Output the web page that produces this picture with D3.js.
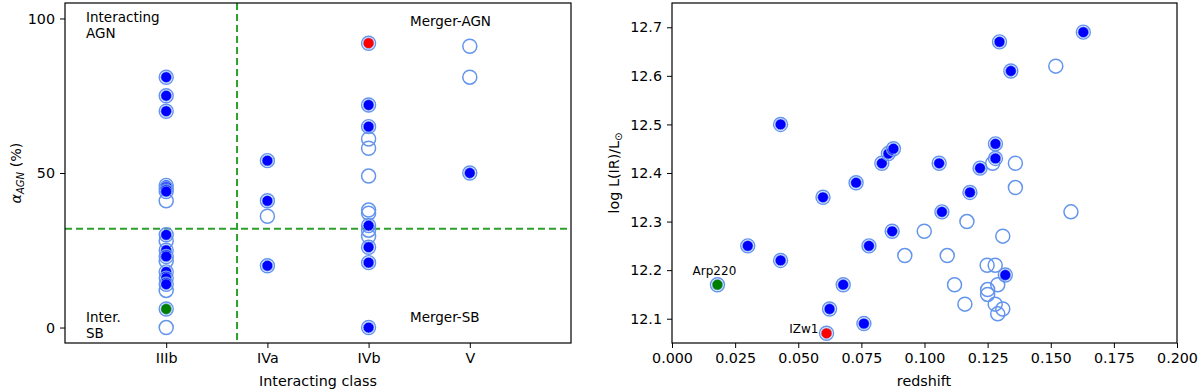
<!DOCTYPE html>
<html><head><meta charset="utf-8">
<script src="https://cdn.jsdelivr.net/npm/d3@7"></script>
<style>body{margin:0;background:#fff;} text{font-family:"DejaVu Sans",sans-serif;}</style>
</head><body>
<svg id="c" width="1200" height="392"></svg>
<script>
// ---- Left panel data ----
const classes = ["IIIb","IVa","IVb","V"];
const leftOpen = [
  {c:"IIIb", a:[41,28,21.5,12,0]},
  {c:"IVa",  a:[36]},
  {c:"IVb",  a:[61,58,49,38,37,31.5,29.5]},
  {c:"V",    a:[91,81]}
];
const leftFilled = [
  {c:"IIIb", a:[81,75,70,46,45,44,30,25,23,18,16,14]},
  {c:"IVa",  a:[54,41,20]},
  {c:"IVb",  a:[72,65,33,26,21,0]},
  {c:"V",    a:[50]}
];
const leftGreen = [{c:"IIIb", a:6}];
const leftRed = [{c:"IVb", a:92}];
const leftYTicks = [0,50,100];
const alphaCut = 32;
const classCut = 0.7;

// ---- Right panel data ----
const rOpenZ = [0.152,0.127,0.136,0.136,0.158,0.1168,0.0999,0.131,0.0922,0.109,0.1248,0.128,0.129,0.1119,0.125,0.125,0.116,0.128,0.131,0.129];
const rOpenL = [12.62,12.42,12.42,12.37,12.32,12.30,12.28,12.27,12.23,12.23,12.21,12.21,12.17,12.17,12.16,12.15,12.13,12.13,12.12,12.11];
const rFillZ = [0.043,0.0598,0.0729,0.0831,0.0857,0.0877,0.0872,0.030,0.078,0.043,0.0678,0.0624,0.076,0.1297,0.1629,0.1342,0.1281,0.1281,0.1058,0.122,0.118,0.1069,0.132];
const rFillL = [12.50,12.35,12.38,12.42,12.44,12.45,12.28,12.25,12.25,12.22,12.17,12.12,12.09,12.67,12.69,12.61,12.46,12.43,12.42,12.41,12.36,12.32,12.19];
const rGreen = {name:"Arp220", z:0.018, l:12.17};
const rRed = {name:"IZw1", z:0.0612, l:12.07};
const rXTicks = [0,0.025,0.05,0.075,0.1,0.125,0.15,0.175,0.2];
const rYTicks = [12.1,12.2,12.3,12.4,12.5,12.6,12.7];

const svg = d3.select("#c");
const EDGE = "#6495ED";

function openMark(g, x, y){
  g.append("circle").attr("cx",x).attr("cy",y).attr("r",7)
   .attr("fill","none").attr("stroke",EDGE).attr("stroke-width",1.5);
}
function fillMark(g, x, y, col){
  g.append("circle").attr("cx",x).attr("cy",y).attr("r",7)
   .attr("fill","none").attr("stroke",EDGE).attr("stroke-width",1.4);
  g.append("circle").attr("cx",x).attr("cy",y).attr("r",5.4)
   .attr("fill",col).attr("stroke","#8fb2f5").attr("stroke-width",0.7);
}
function styleAxis(a){
  a.select(".domain").remove();
  a.selectAll(".tick line").attr("stroke","#000").attr("stroke-width",1);
  a.selectAll(".tick text").attr("fill","#000").style("font-size","14.3px").style("font-family","DejaVu Sans");
}

// ---------- Left panel ----------
const L = {l:65, r:571, t:3, b:343};
const xL = d3.scaleLinear().domain([-1,4]).range([L.l,L.r]);
const yL = d3.scaleLinear().domain([-5,105]).range([L.b,L.t]);
const gL = svg.append("g");

gL.append("line").attr("x1",xL(classCut)).attr("x2",xL(classCut)).attr("y1",L.t).attr("y2",L.b)
  .attr("stroke","#2ca02c").attr("stroke-width",2).attr("stroke-dasharray","7,4");
gL.append("line").attr("x1",L.l).attr("x2",L.r).attr("y1",yL(alphaCut)).attr("y2",yL(alphaCut))
  .attr("stroke","#2ca02c").attr("stroke-width",2).attr("stroke-dasharray","7,4");

leftOpen.forEach(d=>d.a.forEach(v=>openMark(gL, xL(classes.indexOf(d.c)), yL(v))));
leftFilled.forEach(d=>d.a.forEach(v=>fillMark(gL, xL(classes.indexOf(d.c)), yL(v), "#0000ff")));
leftGreen.forEach(d=>fillMark(gL, xL(classes.indexOf(d.c)), yL(d.a), "#008000"));
leftRed.forEach(d=>fillMark(gL, xL(classes.indexOf(d.c)), yL(d.a), "#ff0000"));

gL.append("rect").attr("x",L.l).attr("y",L.t).attr("width",L.r-L.l).attr("height",L.b-L.t)
  .attr("fill","none").attr("stroke","#000").attr("stroke-width",1.2);

const axLx = gL.append("g").attr("transform",`translate(0,${L.b})`)
  .call(d3.axisBottom(xL).tickValues(d3.range(classes.length)).tickFormat(i=>classes[i]).tickSize(5).tickPadding(5));
styleAxis(axLx);
const axLy = gL.append("g").attr("transform",`translate(${L.l},0)`)
  .call(d3.axisLeft(yL).tickValues(leftYTicks).tickSize(5).tickPadding(5));
styleAxis(axLy);

const ann = [
  {t:["Interacting","AGN"], x:86, y:22},
  {t:["Inter.","SB"], x:86, y:322},
  {t:["Merger-AGN"], x:410, y:26},
  {t:["Merger-SB"], x:410, y:322}
];
ann.forEach(a=>{
  const t = gL.append("text").attr("x",a.x).attr("y",a.y).style("font-size","13.5px").attr("fill","#000");
  a.t.forEach((s,i)=>t.append("tspan").attr("x",a.x).attr("dy",i?15.5:0).text(s));
});

gL.append("text").attr("x",318).attr("y",386).attr("text-anchor","middle").style("font-size","14.3px").text("Interacting class");
const yl = gL.append("text").attr("transform","translate(21,173) rotate(-90)").attr("text-anchor","middle").style("font-size","14.3px");
yl.append("tspan").style("font-style","italic").text("α");
yl.append("tspan").attr("dy",3).style("font-size","10px").style("font-style","italic").text("AGN");
yl.append("tspan").attr("dy",-3).text(" (%)");

// ---------- Right panel ----------
const R = {l:672, r:1177, t:3, b:343};
const xR = d3.scaleLinear().domain([0,0.2]).range([R.l,R.r]);
const yR = d3.scaleLinear().domain([12.05,12.75]).range([R.b,R.t]);
const gR = svg.append("g");

rOpenZ.forEach((z,i)=>openMark(gR, xR(z), yR(rOpenL[i])));
rFillZ.forEach((z,i)=>fillMark(gR, xR(z), yR(rFillL[i]), "#0000ff"));
fillMark(gR, xR(rGreen.z), yR(rGreen.l), "#008000");
fillMark(gR, xR(rRed.z), yR(rRed.l), "#ff0000");

gR.append("text").attr("x",xR(rGreen.z)-3).attr("y",yR(rGreen.l)-10).attr("text-anchor","middle")
  .style("font-size","12px").text(rGreen.name);
gR.append("text").attr("x",xR(rRed.z)-8).attr("y",yR(rRed.l)+0).attr("text-anchor","end")
  .style("font-size","12px").text(rRed.name);

gR.append("rect").attr("x",R.l).attr("y",R.t).attr("width",R.r-R.l).attr("height",R.b-R.t)
  .attr("fill","none").attr("stroke","#000").attr("stroke-width",1.2);

const axRx = gR.append("g").attr("transform",`translate(0,${R.b})`)
  .call(d3.axisBottom(xR).tickValues(rXTicks).tickFormat(d3.format(".3f")).tickSize(5).tickPadding(5));
styleAxis(axRx);
const axRy = gR.append("g").attr("transform",`translate(${R.l},0)`)
  .call(d3.axisLeft(yR).tickValues(rYTicks).tickFormat(d3.format(".1f")).tickSize(5).tickPadding(5));
styleAxis(axRy);

gR.append("text").attr("x",924).attr("y",386).attr("text-anchor","middle").style("font-size","14.3px").text("redshift");
const yr = gR.append("text").attr("transform","translate(619,173) rotate(-90)").attr("text-anchor","middle").style("font-size","14.3px");
yr.append("tspan").text("log L(IR)/L");
yr.append("tspan").attr("dy",3).style("font-size","10px").text("⊙");
</script>
</body></html>
